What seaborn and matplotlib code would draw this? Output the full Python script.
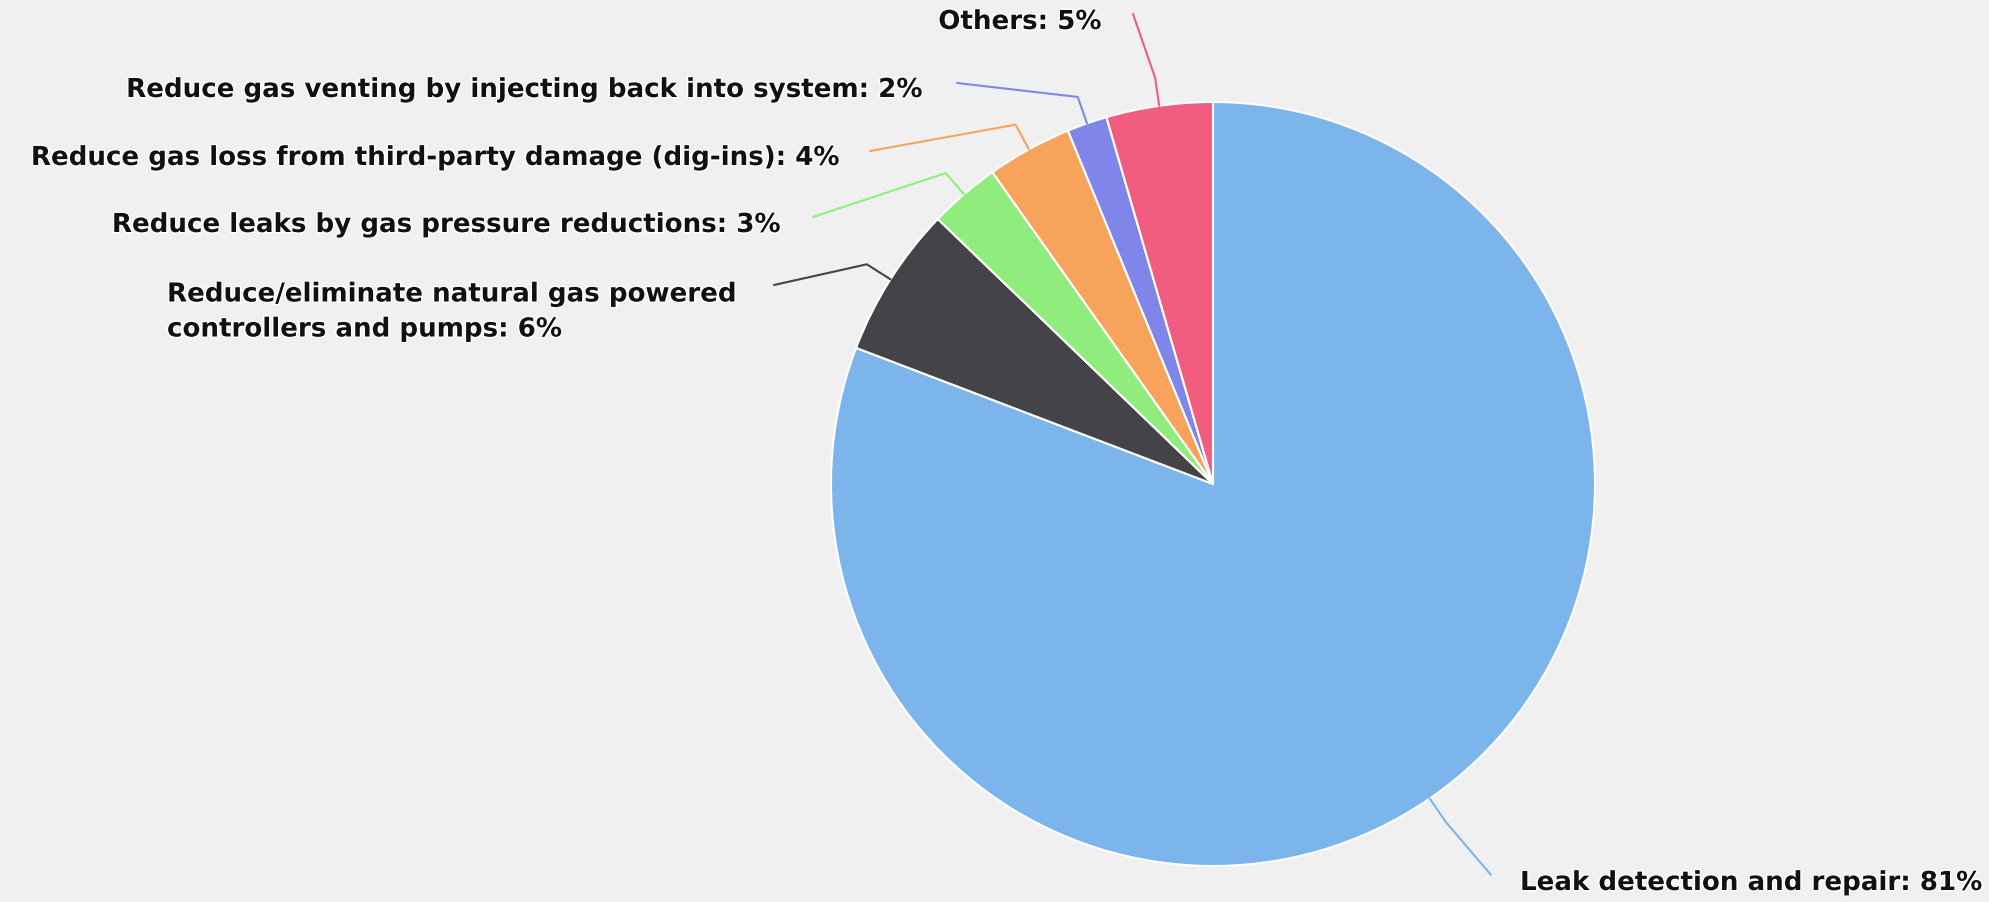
import numpy as np
import matplotlib
matplotlib.use("Agg")
import matplotlib.pyplot as plt
import matplotlib.patheffects as pe
import seaborn as sns

# ---- data ----
categories = [
    "Leak detection and repair",
    "Reduce/eliminate natural gas powered\ncontrollers and pumps",
    "Reduce leaks by gas pressure reductions",
    "Reduce gas loss from third-party damage (dig-ins)",
    "Reduce gas venting by injecting back into system",
    "Others",
]
values = [80.8, 6.4, 3.0, 3.6, 1.7, 4.5]
pct_labels = ["81%", "6%", "3%", "4%", "2%", "5%"]
colors = ["#7cb5ec", "#434348", "#90ed7d", "#f7a35c", "#8085e9", "#f15c80"]

# ---- layout (pixel space, y up) ----
W, H = 1990, 903
BG = "#f0f0f0"
cx, cy, R = 1213, H - 485, 382

sns.set_style("white")
plt.rcParams['font.family'] = ['DejaVu Sans']

fig = plt.figure(figsize=(W / 100, H / 100), dpi=100, facecolor=BG)
ax = fig.add_axes([0, 0, 1, 1])
ax.set_facecolor(BG)

wedges, _ = ax.pie(values, colors=sns.color_palette(colors), startangle=90,
                   counterclock=False, center=(cx, cy), radius=R,
                   wedgeprops=dict(edgecolor="white", linewidth=1.5),
                   frame=True)
ax.set_xlim(0, W)
ax.set_ylim(0, H)
ax.set_aspect("equal")
ax.axis("off")

# label anchors: (connector start x, y from top, text x, ha)
label_pos = [
    (1491, 876, 1520, "left"),
    (774, 286, 167, "left"),
    (813, 218, 783, "right"),
    (870, 152, 842, "right"),
    (957, 84, 925, "right"),
    (1133, 15, 1102, "right"),
]
text_y = [884, 313, 226, 159, 91, 23]

fs = 18.8
for w, cat, pct, col, (lx, ly, tx, ha), ty in zip(wedges, categories, pct_labels, colors, label_pos, text_y):
    mid = np.deg2rad((w.theta1 + w.theta2) / 2)
    ex, ey = cx + R * np.cos(mid), cy + R * np.sin(mid)
    bx, by = cx + (R + 28) * np.cos(mid), cy + (R + 28) * np.sin(mid)
    ax.plot([lx, bx, ex], [H - ly, by, ey], color=col, lw=1.5, solid_joinstyle="round")
    ax.text(tx, H - ty, f"{cat}: {pct}", ha=ha, va="center", fontsize=fs,
            fontweight="bold", color="#111111", linespacing=1.45,
            path_effects=[pe.withStroke(linewidth=2, foreground="white")])

fig.savefig("out.png", dpi=100, facecolor=BG)
